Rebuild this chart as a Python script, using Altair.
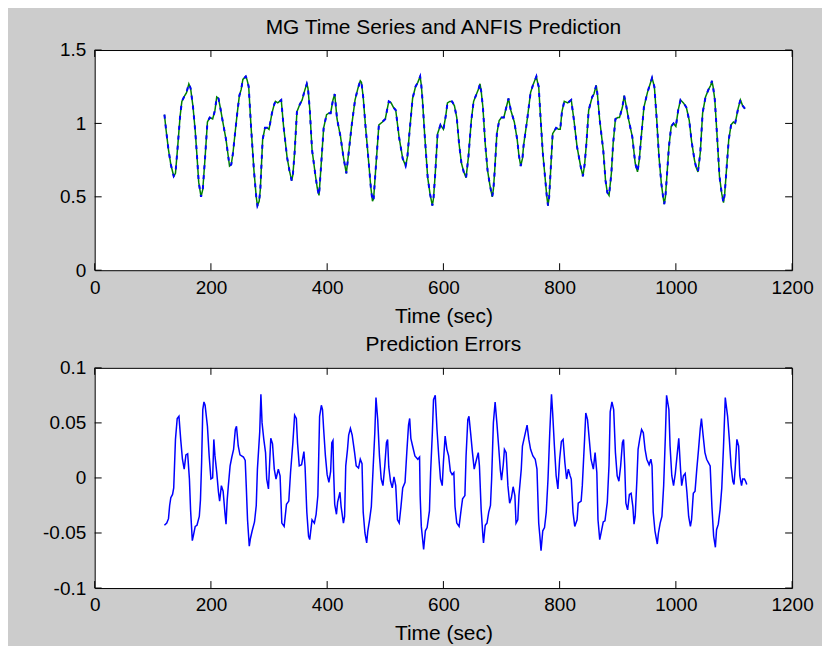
import altair as alt
import pandas as pd

# ---- data ----
time_mg = [120,123,127,131,136,139,143,147,150,155,158,162,165,169,173,176,179,183,186,190,194,198,203,207,210,213,216,220,226,229,232,235,238,242,245,249,252,255,260,262,265,269,274,278,280,283,285,289,293,297,300,305,309,311,315,318,321,325,331,335,339,341,344,348,353,357,361,365,367,370,374,380,383,386,389,394,399,403,406,410,413,417,423,428,433,437,442,448,453,457,459,462,466,472,475,478,480,483,489,495,500,506,510,514,518,524,530,535,538,541,547,552,556,560,562,564,568,573,577,581,583,586,590,595,600,604,607,611,615,619,623,627,631,635,639,643,648,652,658,661,663,665,668,672,676,680,684,686,688,692,696,700,704,707,712,716,722,727,730,733,736,738,744,750,754,757,760,762,764,767,771,775,778,780,782,784,788,794,798,801,804,808,814,820,825,830,836,840,843,846,850,856,859,863,865,869,875,879,882,885,889,892,896,900,903,908,911,915,919,925,930,934,937,940,945,951,955,959,963,967,971,975,978,980,982,984,988,992,996,1000,1004,1008,1013,1018,1023,1027,1032,1035,1038,1042,1046,1051,1056,1060,1062,1064,1067,1071,1075,1079,1082,1084,1087,1091,1095,1099,1102,1107,1111,1115,1119]
mg_values = [1.06,0.95,0.82,0.72,0.64,0.66,0.85,1.05,1.15,1.19,1.21,1.27,1.24,1.12,0.95,0.78,0.60,0.50,0.55,0.77,1.01,1.04,1.03,1.09,1.18,1.17,1.11,1.02,0.89,0.80,0.71,0.72,0.80,0.95,1.06,1.19,1.23,1.30,1.32,1.30,1.25,0.98,0.68,0.50,0.44,0.47,0.55,0.89,0.97,0.97,0.96,1.07,1.13,1.15,1.14,1.15,1.16,0.98,0.77,0.68,0.61,0.65,0.80,1.08,1.13,1.16,1.22,1.27,1.24,1.10,0.82,0.64,0.56,0.51,0.68,0.97,1.06,1.07,1.07,1.16,1.20,1.03,0.91,0.77,0.66,0.80,0.98,1.16,1.24,1.29,1.28,1.18,0.98,0.71,0.57,0.47,0.49,0.66,0.99,1.01,1.03,1.15,1.14,1.11,1.09,0.90,0.76,0.71,0.77,0.91,1.17,1.25,1.28,1.32,1.26,1.16,0.91,0.63,0.52,0.44,0.49,0.66,0.93,0.99,0.96,1.05,1.14,1.15,1.15,1.12,1.04,0.86,0.73,0.67,0.63,0.77,1.02,1.15,1.21,1.24,1.27,1.22,1.11,0.86,0.68,0.58,0.50,0.55,0.66,0.93,1.02,1.04,1.04,1.09,1.17,1.09,1.01,0.89,0.78,0.71,0.76,0.85,1.02,1.21,1.26,1.29,1.32,1.28,1.25,1.05,0.80,0.63,0.50,0.44,0.50,0.64,0.93,0.97,0.96,0.96,1.08,1.15,1.14,1.16,1.01,0.84,0.71,0.64,0.72,0.86,1.09,1.18,1.20,1.26,1.20,1.02,0.82,0.61,0.53,0.51,0.66,0.86,1.03,1.04,1.04,1.11,1.19,1.11,1.02,0.91,0.73,0.67,0.75,0.89,1.11,1.21,1.26,1.31,1.25,1.03,0.77,0.59,0.50,0.45,0.50,0.61,0.84,0.98,1.00,0.98,1.09,1.16,1.14,1.11,1.02,0.88,0.75,0.70,0.67,0.80,1.07,1.18,1.23,1.26,1.29,1.25,1.16,0.91,0.64,0.52,0.46,0.52,0.68,0.89,0.99,1.01,1.00,1.10,1.16,1.12,1.10]

time_err = [120,124,127,129,131,134,136,139,142,145,148,151,154,157,160,163,165,168,170,173,176,180,182,184,186,188,190,194,197,200,203,205,207,210,213,215,218,221,224,226,228,230,233,236,239,242,244,247,250,256,259,261,263,266,268,271,275,278,280,284,286,288,291,294,296,299,303,306,309,312,316,319,322,326,330,334,337,341,344,347,349,352,356,360,362,365,368,370,374,378,381,384,387,390,392,394,397,400,403,406,408,410,411,413,416,418,422,424,428,430,432,435,437,440,443,447,450,454,457,460,462,465,468,470,473,476,479,482,484,487,490,493,496,499,502,504,506,509,512,515,518,521,524,527,530,534,537,540,542,544,547,551,556,559,560,562,566,569,572,576,578,581,583,586,589,592,595,598,600,603,606,609,612,615,618,620,623,627,630,633,637,639,642,644,647,650,653,657,660,662,665,668,669,672,675,678,681,683,686,689,692,695,698,700,703,705,708,711,714,717,720,723,725,728,730,734,736,741,744,747,750,754,758,761,764,766,768,771,774,777,780,783,786,788,791,794,797,800,803,806,809,812,815,818,820,823,826,830,832,837,839,843,845,848,851,854,858,861,864,866,869,872,875,878,882,885,887,890,893,896,899,902,905,908,910,912,914,917,920,923,926,928,930,933,935,938,941,944,947,950,954,957,959,961,964,968,970,973,976,979,982,984,988,990,993,996,999,1002,1005,1008,1010,1013,1016,1019,1022,1025,1027,1030,1033,1036,1039,1042,1044,1047,1050,1053,1056,1059,1062,1065,1068,1070,1073,1076,1079,1082,1085,1089,1092,1095,1098,1100,1102,1105,1108,1110,1113,1115,1118,1120,1122]
err_values = [-0.043,-0.041,-0.037,-0.025,-0.018,-0.015,-0.009,0.035,0.054,0.056,0.035,0.017,0.008,0.021,0.022,-0.001,-0.029,-0.057,-0.052,-0.044,-0.043,-0.035,-0.020,0.014,0.062,0.069,0.066,0.047,0.020,-0.001,0.000,0.035,0.020,0.005,-0.013,-0.021,-0.007,-0.012,-0.031,-0.042,-0.020,-0.007,0.011,0.019,0.026,0.044,0.047,0.029,0.021,0.019,0.016,-0.010,-0.038,-0.062,-0.055,-0.048,-0.040,-0.025,0.008,0.042,0.076,0.050,0.035,0.023,-0.001,-0.010,0.036,0.031,0.008,-0.001,0.008,0.002,-0.041,-0.044,-0.024,-0.021,0.005,0.032,0.057,0.054,0.032,0.011,0.012,0.024,0.010,-0.031,-0.053,-0.056,-0.038,-0.041,-0.033,-0.016,0.056,0.066,0.062,0.044,0.020,0.003,-0.004,0.006,0.032,0.034,0.008,-0.024,-0.033,-0.022,-0.013,-0.026,-0.041,-0.035,0.011,0.026,0.039,0.045,0.039,0.024,0.011,0.009,0.017,0.013,-0.031,-0.050,-0.059,-0.048,-0.038,-0.026,0.008,0.041,0.073,0.053,0.020,-0.001,-0.007,0.010,0.032,0.035,0.010,-0.003,-0.009,0.001,-0.007,-0.038,-0.041,-0.026,-0.009,-0.004,0.023,0.048,0.054,0.036,0.029,0.020,0.017,0.019,-0.016,-0.044,-0.065,-0.048,-0.045,-0.030,0.005,0.041,0.071,0.075,0.044,0.020,-0.001,-0.007,0.014,0.038,0.026,0.020,0.006,0.003,0.005,-0.026,-0.041,-0.044,-0.031,-0.019,-0.016,0.020,0.053,0.056,0.040,0.023,0.008,0.017,0.023,0.011,-0.029,-0.053,-0.059,-0.043,-0.041,-0.031,-0.025,-0.001,0.050,0.069,0.050,0.029,0.007,-0.002,0.012,0.026,0.023,-0.007,-0.023,-0.018,-0.008,-0.016,-0.041,-0.038,-0.016,0.008,0.029,0.041,0.048,0.035,0.026,0.020,0.017,0.008,-0.041,-0.053,-0.066,-0.048,-0.045,-0.031,-0.001,0.041,0.076,0.059,0.029,0.002,-0.010,0.017,0.033,0.035,0.014,-0.001,0.008,0.002,-0.001,-0.031,-0.044,-0.038,-0.023,-0.021,-0.007,0.036,0.059,0.053,0.035,0.017,0.008,0.023,0.005,-0.038,-0.056,-0.048,-0.040,-0.039,-0.022,0.012,0.060,0.069,0.062,0.023,0.002,-0.003,0.011,0.032,0.035,0.011,-0.023,-0.029,-0.015,-0.014,-0.026,-0.042,-0.035,-0.001,0.026,0.036,0.044,0.041,0.026,0.017,0.012,0.017,0.011,-0.031,-0.048,-0.060,-0.050,-0.041,-0.035,-0.007,0.039,0.075,0.062,0.029,0.002,-0.007,0.004,0.020,0.036,0.008,-0.007,0.002,0.004,-0.013,-0.035,-0.044,-0.038,-0.014,-0.012,0.008,0.026,0.045,0.054,0.038,0.023,0.017,0.014,0.011,-0.026,-0.053,-0.063,-0.047,-0.042,-0.029,-0.009,0.029,0.073,0.056,0.035,0.011,-0.003,-0.006,0.008,0.035,0.029,0.002,-0.007,-0.001,-0.001,-0.003,-0.006]

x_ticks = [0, 200, 400, 600, 800, 1000, 1200]
y_ticks_top = [0, 0.5, 1, 1.5]
y_ticks_err = [-0.1, -0.05, 0, 0.05, 0.1]

title_top = "MG Time Series and ANFIS Prediction"
title_err = "Prediction Errors"
x_title = "Time (sec)"

# ---- layout / style ----
W, H = 700, 221
TL = 7
FONT = "Liberation Sans"
LFS = 19   # tick label size
TFS = 21   # title size

df_mg = pd.DataFrame({"t": time_mg, "v": mg_values})
df_err = pd.DataFrame({"t": time_err, "e": err_values})
df_xt = pd.DataFrame({"t": x_ticks})

xscale = alt.Scale(domain=[0, 1200], nice=False, zero=False)

X_AXIS = alt.Axis(values=x_ticks, ticks=False, domain=False, grid=False,
                  labelFont=FONT, labelFontSize=LFS, labelColor="black",
                  labelPadding=8, labelFlush=False, labelOverlap=False,
                  labelExpr="'' + datum.value",
                  title=x_title, titleFont=FONT, titleFontSize=TFS,
                  titleFontWeight="normal", titleColor="black", titlePadding=8)


def y_axis(vals):
    return alt.Axis(values=vals, ticks=False, domain=False, grid=False,
                    labelFont=FONT, labelFontSize=LFS, labelColor="black",
                    labelPadding=9, labelFlush=False, labelOverlap=False,
                    labelExpr="'' + datum.value", title=None)


def tick_layers(yfield_df, yfield, yscale, yax):
    xenc = alt.X("t:Q", scale=xscale, axis=X_AXIS)
    yenc = alt.Y(f"{yfield}:Q", scale=yscale, axis=yax)
    bottom = alt.Chart(df_xt).mark_rule(color="black", strokeWidth=1).encode(
        x=xenc, y=alt.value(H - TL), y2=alt.value(H))
    top = alt.Chart(df_xt).mark_rule(color="black", strokeWidth=1).encode(
        x=xenc, y=alt.value(0), y2=alt.value(TL))
    left = alt.Chart(yfield_df).mark_rule(color="black", strokeWidth=1).encode(
        y=yenc, x=alt.value(0), x2=alt.value(TL))
    right = alt.Chart(yfield_df).mark_rule(color="black", strokeWidth=1).encode(
        y=yenc, x=alt.value(W - TL), x2=alt.value(W))
    return [bottom, top, left, right]


# top panel
yscale_top = alt.Scale(domain=[0, 1.5], nice=False, zero=False)
YAX_TOP = y_axis(y_ticks_top)
actual = alt.Chart(df_mg).mark_line(color="#008000", strokeWidth=1.5).encode(
    x=alt.X("t:Q", scale=xscale, axis=X_AXIS),
    y=alt.Y("v:Q", scale=yscale_top, axis=YAX_TOP))
pred = alt.Chart(df_mg).mark_line(color="#0000ff", strokeWidth=2, strokeDash=[4, 6]).encode(
    x=alt.X("t:Q", scale=xscale, axis=X_AXIS), y=alt.Y("v:Q", scale=yscale_top, axis=YAX_TOP))
df_yt_top = pd.DataFrame({"v": y_ticks_top})
top_panel = alt.layer(actual, pred, *tick_layers(df_yt_top, "v", yscale_top, YAX_TOP)).properties(
    width=W, height=H,
    title=alt.Title(title_top, font=FONT, fontSize=TFS, fontWeight="normal", color="black", offset=3))

# bottom panel
yscale_err = alt.Scale(domain=[-0.1, 0.1], nice=False, zero=False)
YAX_ERR = y_axis(y_ticks_err)
err_line = alt.Chart(df_err).mark_line(color="#0000ff", strokeWidth=1.5).encode(
    x=alt.X("t:Q", scale=xscale, axis=X_AXIS),
    y=alt.Y("e:Q", scale=yscale_err, axis=YAX_ERR))
df_yt_err = pd.DataFrame({"e": y_ticks_err})
err_panel = alt.layer(err_line, *tick_layers(df_yt_err, "e", yscale_err, YAX_ERR)).properties(
    width=W, height=H,
    title=alt.Title(title_err, font=FONT, fontSize=TFS, fontWeight="normal", color="black", offset=4))

chart = alt.vconcat(top_panel, err_panel, spacing=6).properties(
    padding={"left": 34, "top": 7, "right": 8, "bottom": 0},
    background="#cccccc",
).configure_view(stroke="black", strokeWidth=1, fill="white")

chart.save("out.html", embed_options={"renderer": "svg", "actions": False})
